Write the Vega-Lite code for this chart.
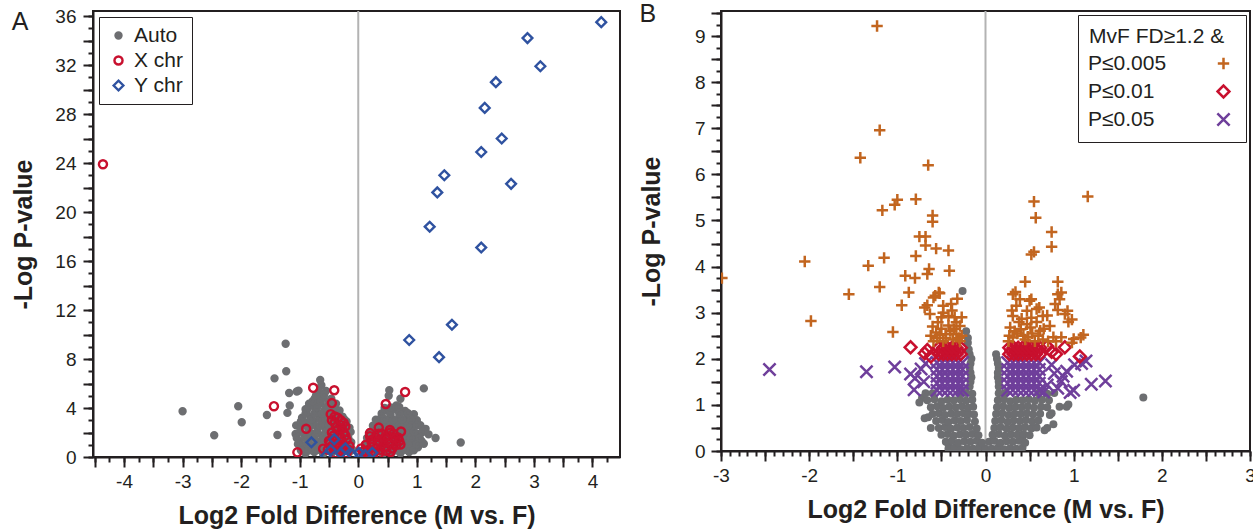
{
"$schema": "https://vega.github.io/schema/vega-lite/v6.json",
"background": "white",
"padding": {"left": 10, "top": 1, "right": 0, "bottom": 0},
"spacing": 17,
"resolve": {"scale": {"stroke": "independent", "fill": "independent", "shape": "independent", "size": "independent", "color": "independent"}, "legend": {"stroke": "independent", "fill": "independent", "shape": "independent", "size": "independent"}},
"config": {
  "view": {"stroke": "#231f20", "strokeWidth": 2},
  "font": "Liberation Sans",
  "axis": {"grid": false, "domainColor": "#231f20", "domainWidth": 2, "tickColor": "#231f20", "tickWidth": 2, "labelFont": "Liberation Sans", "labelFontSize": 19, "labelColor": "#231f20", "labelOverlap": false, "labelBound": false, "labelFlush": false, "titleFont": "Liberation Sans", "titleFontSize": 25, "titleFontWeight": "bold", "titleColor": "#231f20"}
},
"datasets": {
"aa": [
{"x":-3.0,"y":3.73,"g":"Auto"},{"x":-2.46,"y":1.78,"g":"Auto"},{"x":-2.05,"y":4.14,"g":"Auto"},{"x":-1.99,"y":2.84,"g":"Auto"},{"x":-1.56,"y":3.43,"g":"Auto"},{"x":-1.43,"y":6.42,"g":"Auto"},{"x":-1.38,"y":1.8,"g":"Auto"},{"x":-1.24,"y":9.25,"g":"Auto"},{"x":-1.23,"y":7.0,"g":"Auto"},{"x":-1.18,"y":5.22,"g":"Auto"},{"x":-1.02,"y":5.42,"g":"Auto"},{"x":-1.05,"y":5.35,"g":"Auto"},{"x":-1.17,"y":4.2,"g":"Auto"},{"x":-1.21,"y":3.6,"g":"Auto"},{"x":-1.06,"y":2.58,"g":"Auto"},{"x":-1.07,"y":1.88,"g":"Auto"},{"x":-0.65,"y":6.28,"g":"Auto"},{"x":-0.63,"y":5.85,"g":"Auto"},{"x":-0.66,"y":5.04,"g":"Auto"},{"x":-0.76,"y":4.6,"g":"Auto"},{"x":-0.84,"y":4.35,"g":"Auto"},{"x":-0.9,"y":3.9,"g":"Auto"},{"x":-0.96,"y":3.2,"g":"Auto"},{"x":-0.98,"y":2.9,"g":"Auto"},
{"x":1.12,"y":5.6,"g":"Auto"},{"x":0.53,"y":5.45,"g":"Auto"},{"x":0.52,"y":5.0,"g":"Auto"},{"x":0.72,"y":4.76,"g":"Auto"},{"x":0.81,"y":3.65,"g":"Auto"},{"x":1.06,"y":2.59,"g":"Auto"},{"x":1.09,"y":2.04,"g":"Auto"},{"x":1.32,"y":1.55,"g":"Auto"},{"x":1.75,"y":1.18,"g":"Auto"},{"x":1.0,"y":3.0,"g":"Auto"},{"x":0.95,"y":3.5,"g":"Auto"},{"x":1.15,"y":2.3,"g":"Auto"},{"x":1.2,"y":1.85,"g":"Auto"},{"x":0.65,"y":4.2,"g":"Auto"},{"x":0.45,"y":4.0,"g":"Auto"},
{"x":-0.9,"y":0.3,"g":"Auto"},{"x":-0.75,"y":0.4,"g":"Auto"},{"x":-0.6,"y":0.25,"g":"Auto"},{"x":-0.45,"y":0.35,"g":"Auto"},{"x":-0.3,"y":0.3,"g":"Auto"},{"x":-0.15,"y":0.4,"g":"Auto"},
{"x":-0.95,"y":0.8,"g":"Auto"},{"x":-0.8,"y":0.9,"g":"Auto"},{"x":-0.65,"y":0.75,"g":"Auto"},{"x":-0.5,"y":0.85,"g":"Auto"},{"x":-0.35,"y":0.8,"g":"Auto"},{"x":-0.2,"y":0.9,"g":"Auto"},
{"x":-1.0,"y":1.3,"g":"Auto"},{"x":-0.85,"y":1.4,"g":"Auto"},{"x":-0.7,"y":1.25,"g":"Auto"},{"x":-0.55,"y":1.35,"g":"Auto"},{"x":-0.4,"y":1.3,"g":"Auto"},{"x":-0.25,"y":1.4,"g":"Auto"},{"x":-0.12,"y":1.2,"g":"Auto"},
{"x":-0.92,"y":1.8,"g":"Auto"},{"x":-0.78,"y":1.9,"g":"Auto"},{"x":-0.62,"y":1.75,"g":"Auto"},{"x":-0.48,"y":1.85,"g":"Auto"},{"x":-0.33,"y":1.8,"g":"Auto"},{"x":-0.2,"y":1.9,"g":"Auto"},
{"x":-0.85,"y":2.3,"g":"Auto"},{"x":-0.7,"y":2.4,"g":"Auto"},{"x":-0.56,"y":2.25,"g":"Auto"},{"x":-0.42,"y":2.35,"g":"Auto"},{"x":-0.28,"y":2.3,"g":"Auto"},{"x":-0.15,"y":2.4,"g":"Auto"},
{"x":-0.9,"y":2.8,"g":"Auto"},{"x":-0.76,"y":2.9,"g":"Auto"},{"x":-0.6,"y":2.75,"g":"Auto"},{"x":-0.47,"y":2.85,"g":"Auto"},{"x":-0.33,"y":2.8,"g":"Auto"},{"x":-0.2,"y":2.9,"g":"Auto"},
{"x":-0.82,"y":3.3,"g":"Auto"},{"x":-0.68,"y":3.4,"g":"Auto"},{"x":-0.55,"y":3.25,"g":"Auto"},{"x":-0.4,"y":3.35,"g":"Auto"},{"x":-0.27,"y":3.3,"g":"Auto"},
{"x":-0.88,"y":3.8,"g":"Auto"},{"x":-0.72,"y":3.9,"g":"Auto"},{"x":-0.58,"y":3.75,"g":"Auto"},{"x":-0.45,"y":3.85,"g":"Auto"},{"x":-0.32,"y":3.8,"g":"Auto"},
{"x":-0.8,"y":4.3,"g":"Auto"},{"x":-0.64,"y":4.4,"g":"Auto"},{"x":-0.5,"y":4.25,"g":"Auto"},{"x":-0.38,"y":4.35,"g":"Auto"},
{"x":-0.74,"y":4.8,"g":"Auto"},{"x":-0.6,"y":4.9,"g":"Auto"},{"x":-0.46,"y":4.75,"g":"Auto"},{"x":-0.67,"y":5.3,"g":"Auto"},{"x":-0.55,"y":5.4,"g":"Auto"},
{"x":-0.98,"y":0.55,"g":"Auto"},{"x":-0.83,"y":0.55,"g":"Auto"},{"x":-0.68,"y":0.58,"g":"Auto"},{"x":-0.53,"y":0.55,"g":"Auto"},{"x":-0.38,"y":0.58,"g":"Auto"},{"x":-0.23,"y":0.55,"g":"Auto"},{"x":-0.1,"y":0.6,"g":"Auto"},
{"x":-1.03,"y":1.05,"g":"Auto"},{"x":-0.88,"y":1.08,"g":"Auto"},{"x":-0.73,"y":1.05,"g":"Auto"},{"x":-0.58,"y":1.08,"g":"Auto"},{"x":-0.43,"y":1.05,"g":"Auto"},{"x":-0.28,"y":1.08,"g":"Auto"},{"x":-0.15,"y":1.05,"g":"Auto"},
{"x":-1.05,"y":1.55,"g":"Auto"},{"x":-0.9,"y":1.58,"g":"Auto"},{"x":-0.75,"y":1.55,"g":"Auto"},{"x":-0.6,"y":1.58,"g":"Auto"},{"x":-0.45,"y":1.55,"g":"Auto"},{"x":-0.3,"y":1.58,"g":"Auto"},{"x":-0.17,"y":1.55,"g":"Auto"},
{"x":-1.0,"y":2.05,"g":"Auto"},{"x":-0.85,"y":2.08,"g":"Auto"},{"x":-0.7,"y":2.05,"g":"Auto"},{"x":-0.55,"y":2.08,"g":"Auto"},{"x":-0.4,"y":2.05,"g":"Auto"},{"x":-0.25,"y":2.08,"g":"Auto"},{"x":-0.13,"y":2.05,"g":"Auto"},
{"x":-0.95,"y":2.55,"g":"Auto"},{"x":-0.8,"y":2.58,"g":"Auto"},{"x":-0.65,"y":2.55,"g":"Auto"},{"x":-0.5,"y":2.58,"g":"Auto"},{"x":-0.36,"y":2.55,"g":"Auto"},{"x":-0.22,"y":2.58,"g":"Auto"},
{"x":-0.95,"y":3.05,"g":"Auto"},{"x":-0.8,"y":3.08,"g":"Auto"},{"x":-0.65,"y":3.05,"g":"Auto"},{"x":-0.5,"y":3.08,"g":"Auto"},{"x":-0.36,"y":3.05,"g":"Auto"},{"x":-0.24,"y":3.08,"g":"Auto"},
{"x":-0.9,"y":3.55,"g":"Auto"},{"x":-0.75,"y":3.58,"g":"Auto"},{"x":-0.62,"y":3.55,"g":"Auto"},{"x":-0.48,"y":3.58,"g":"Auto"},{"x":-0.34,"y":3.55,"g":"Auto"},
{"x":-0.85,"y":4.05,"g":"Auto"},{"x":-0.7,"y":4.08,"g":"Auto"},{"x":-0.56,"y":4.05,"g":"Auto"},{"x":-0.42,"y":4.08,"g":"Auto"},
{"x":-0.78,"y":4.55,"g":"Auto"},{"x":-0.64,"y":4.58,"g":"Auto"},{"x":-0.5,"y":4.55,"g":"Auto"},{"x":-0.72,"y":5.05,"g":"Auto"},{"x":-0.58,"y":5.08,"g":"Auto"},
{"x":0.12,"y":0.3,"g":"Auto"},{"x":0.27,"y":0.4,"g":"Auto"},{"x":0.42,"y":0.25,"g":"Auto"},{"x":0.57,"y":0.35,"g":"Auto"},{"x":0.72,"y":0.3,"g":"Auto"},{"x":0.87,"y":0.4,"g":"Auto"},
{"x":0.15,"y":0.8,"g":"Auto"},{"x":0.3,"y":0.9,"g":"Auto"},{"x":0.45,"y":0.75,"g":"Auto"},{"x":0.6,"y":0.85,"g":"Auto"},{"x":0.75,"y":0.8,"g":"Auto"},{"x":0.9,"y":0.9,"g":"Auto"},{"x":1.02,"y":0.8,"g":"Auto"},
{"x":0.2,"y":1.3,"g":"Auto"},{"x":0.35,"y":1.4,"g":"Auto"},{"x":0.5,"y":1.25,"g":"Auto"},{"x":0.65,"y":1.35,"g":"Auto"},{"x":0.8,"y":1.3,"g":"Auto"},{"x":0.95,"y":1.4,"g":"Auto"},{"x":1.08,"y":1.3,"g":"Auto"},
{"x":0.25,"y":1.8,"g":"Auto"},{"x":0.4,"y":1.9,"g":"Auto"},{"x":0.55,"y":1.75,"g":"Auto"},{"x":0.7,"y":1.85,"g":"Auto"},{"x":0.85,"y":1.8,"g":"Auto"},{"x":1.0,"y":1.9,"g":"Auto"},
{"x":0.3,"y":2.3,"g":"Auto"},{"x":0.45,"y":2.4,"g":"Auto"},{"x":0.6,"y":2.25,"g":"Auto"},{"x":0.75,"y":2.35,"g":"Auto"},{"x":0.9,"y":2.3,"g":"Auto"},
{"x":0.35,"y":2.8,"g":"Auto"},{"x":0.5,"y":2.9,"g":"Auto"},{"x":0.65,"y":2.75,"g":"Auto"},{"x":0.8,"y":2.85,"g":"Auto"},{"x":0.95,"y":2.8,"g":"Auto"},
{"x":0.4,"y":3.3,"g":"Auto"},{"x":0.55,"y":3.4,"g":"Auto"},{"x":0.7,"y":3.25,"g":"Auto"},{"x":0.85,"y":3.35,"g":"Auto"},
{"x":0.5,"y":3.8,"g":"Auto"},{"x":0.65,"y":3.9,"g":"Auto"},{"x":0.8,"y":3.75,"g":"Auto"},
{"x":0.08,"y":0.55,"g":"Auto"},{"x":0.2,"y":0.58,"g":"Auto"},{"x":0.35,"y":0.55,"g":"Auto"},{"x":0.5,"y":0.58,"g":"Auto"},{"x":0.65,"y":0.55,"g":"Auto"},{"x":0.8,"y":0.58,"g":"Auto"},{"x":0.95,"y":0.55,"g":"Auto"},
{"x":0.12,"y":1.05,"g":"Auto"},{"x":0.25,"y":1.08,"g":"Auto"},{"x":0.4,"y":1.05,"g":"Auto"},{"x":0.55,"y":1.08,"g":"Auto"},{"x":0.7,"y":1.05,"g":"Auto"},{"x":0.85,"y":1.08,"g":"Auto"},{"x":1.0,"y":1.05,"g":"Auto"},{"x":1.12,"y":1.08,"g":"Auto"},
{"x":0.15,"y":1.55,"g":"Auto"},{"x":0.3,"y":1.58,"g":"Auto"},{"x":0.45,"y":1.55,"g":"Auto"},{"x":0.6,"y":1.58,"g":"Auto"},{"x":0.75,"y":1.55,"g":"Auto"},{"x":0.9,"y":1.58,"g":"Auto"},{"x":1.05,"y":1.55,"g":"Auto"},
{"x":0.2,"y":2.05,"g":"Auto"},{"x":0.35,"y":2.08,"g":"Auto"},{"x":0.5,"y":2.05,"g":"Auto"},{"x":0.65,"y":2.08,"g":"Auto"},{"x":0.8,"y":2.05,"g":"Auto"},{"x":0.95,"y":2.08,"g":"Auto"},{"x":1.1,"y":2.05,"g":"Auto"},
{"x":0.25,"y":2.55,"g":"Auto"},{"x":0.4,"y":2.58,"g":"Auto"},{"x":0.55,"y":2.55,"g":"Auto"},{"x":0.7,"y":2.58,"g":"Auto"},{"x":0.85,"y":2.55,"g":"Auto"},{"x":1.0,"y":2.58,"g":"Auto"},
{"x":0.3,"y":3.05,"g":"Auto"},{"x":0.45,"y":3.08,"g":"Auto"},{"x":0.6,"y":3.05,"g":"Auto"},{"x":0.75,"y":3.08,"g":"Auto"},{"x":0.9,"y":3.05,"g":"Auto"},
{"x":0.4,"y":3.55,"g":"Auto"},{"x":0.55,"y":3.58,"g":"Auto"},{"x":0.7,"y":3.55,"g":"Auto"},{"x":0.85,"y":3.58,"g":"Auto"},{"x":0.55,"y":4.05,"g":"Auto"},{"x":0.7,"y":4.08,"g":"Auto"},
{"x":-4.36,"y":23.9,"g":"X chr"},{"x":-0.77,"y":5.65,"g":"X chr"},{"x":-0.41,"y":5.45,"g":"X chr"},{"x":-0.45,"y":4.4,"g":"X chr"},{"x":-1.44,"y":4.15,"g":"X chr"},{"x":-0.47,"y":3.5,"g":"X chr"},{"x":-0.89,"y":2.3,"g":"X chr"},{"x":-1.04,"y":0.38,"g":"X chr"},{"x":-0.6,"y":0.68,"g":"X chr"},{"x":0.47,"y":4.32,"g":"X chr"},{"x":0.8,"y":5.3,"g":"X chr"},{"x":0.35,"y":2.4,"g":"X chr"},{"x":0.54,"y":2.2,"g":"X chr"},{"x":0.73,"y":2.08,"g":"X chr"},{"x":0.72,"y":1.02,"g":"X chr"},
{"x":-0.2,"y":0.3,"g":"X chr"},{"x":-0.3,"y":0.5,"g":"X chr"},{"x":-0.4,"y":0.3,"g":"X chr"},{"x":-0.25,"y":0.9,"g":"X chr"},{"x":-0.35,"y":1.1,"g":"X chr"},{"x":-0.45,"y":0.9,"g":"X chr"},{"x":-0.2,"y":1.4,"g":"X chr"},{"x":-0.3,"y":1.6,"g":"X chr"},{"x":-0.42,"y":1.5,"g":"X chr"},{"x":-0.5,"y":1.3,"g":"X chr"},{"x":-0.25,"y":2.0,"g":"X chr"},{"x":-0.35,"y":2.2,"g":"X chr"},{"x":-0.45,"y":2.0,"g":"X chr"},{"x":-0.3,"y":2.6,"g":"X chr"},{"x":-0.4,"y":2.8,"g":"X chr"},{"x":-0.22,"y":2.5,"g":"X chr"},{"x":-0.45,"y":3.0,"g":"X chr"},{"x":-0.35,"y":3.2,"g":"X chr"},{"x":-0.15,"y":0.9,"g":"X chr"},{"x":-0.52,"y":0.6,"g":"X chr"},
{"x":-0.25,"y":0.6,"g":"X chr"},{"x":-0.35,"y":0.75,"g":"X chr"},{"x":-0.42,"y":0.65,"g":"X chr"},{"x":-0.28,"y":1.25,"g":"X chr"},{"x":-0.38,"y":1.35,"g":"X chr"},{"x":-0.22,"y":1.75,"g":"X chr"},{"x":-0.33,"y":1.85,"g":"X chr"},{"x":-0.42,"y":1.75,"g":"X chr"},{"x":-0.28,"y":2.3,"g":"X chr"},{"x":-0.38,"y":2.45,"g":"X chr"},{"x":-0.25,"y":2.8,"g":"X chr"},{"x":-0.4,"y":3.3,"g":"X chr"},{"x":-0.3,"y":3.0,"g":"X chr"},{"x":-0.17,"y":0.6,"g":"X chr"},{"x":-0.48,"y":1.15,"g":"X chr"},
{"x":0.08,"y":0.4,"g":"X chr"},{"x":0.18,"y":0.6,"g":"X chr"},{"x":0.28,"y":0.4,"g":"X chr"},{"x":0.38,"y":0.6,"g":"X chr"},{"x":0.48,"y":0.5,"g":"X chr"},{"x":0.58,"y":0.7,"g":"X chr"},{"x":0.13,"y":1.0,"g":"X chr"},{"x":0.23,"y":1.2,"g":"X chr"},{"x":0.33,"y":1.0,"g":"X chr"},{"x":0.43,"y":1.3,"g":"X chr"},{"x":0.53,"y":1.1,"g":"X chr"},{"x":0.63,"y":1.4,"g":"X chr"},{"x":0.2,"y":1.7,"g":"X chr"},{"x":0.3,"y":1.6,"g":"X chr"},{"x":0.4,"y":1.9,"g":"X chr"},{"x":0.5,"y":1.7,"g":"X chr"},{"x":0.6,"y":1.9,"g":"X chr"},{"x":0.68,"y":1.6,"g":"X chr"},{"x":0.1,"y":0.15,"g":"X chr"},{"x":0.25,"y":0.15,"g":"X chr"},
{"x":0.15,"y":0.3,"g":"X chr"},{"x":0.35,"y":0.25,"g":"X chr"},{"x":0.45,"y":0.8,"g":"X chr"},{"x":0.55,"y":0.4,"g":"X chr"},{"x":0.65,"y":1.0,"g":"X chr"},{"x":0.25,"y":0.85,"g":"X chr"},{"x":0.35,"y":1.35,"g":"X chr"},{"x":0.5,"y":1.45,"g":"X chr"},{"x":0.6,"y":1.6,"g":"X chr"},{"x":0.25,"y":1.45,"g":"X chr"},{"x":0.45,"y":1.6,"g":"X chr"},{"x":0.7,"y":1.3,"g":"X chr"},{"x":0.35,"y":1.9,"g":"X chr"},{"x":0.55,"y":2.0,"g":"X chr"},{"x":0.2,"y":1.95,"g":"X chr"},{"x":0.05,"y":0.7,"g":"X chr"},
{"x":4.15,"y":35.5,"g":"Y chr"},{"x":2.89,"y":34.2,"g":"Y chr"},{"x":3.11,"y":31.9,"g":"Y chr"},{"x":2.35,"y":30.6,"g":"Y chr"},{"x":2.16,"y":28.5,"g":"Y chr"},{"x":2.45,"y":26.0,"g":"Y chr"},{"x":2.1,"y":24.9,"g":"Y chr"},{"x":1.47,"y":23.0,"g":"Y chr"},{"x":1.35,"y":21.6,"g":"Y chr"},{"x":2.61,"y":22.3,"g":"Y chr"},{"x":1.22,"y":18.8,"g":"Y chr"},{"x":2.1,"y":17.1,"g":"Y chr"},{"x":1.6,"y":10.8,"g":"Y chr"},{"x":0.87,"y":9.55,"g":"Y chr"},{"x":1.38,"y":8.15,"g":"Y chr"},{"x":-0.8,"y":1.2,"g":"Y chr"},{"x":-0.41,"y":1.45,"g":"Y chr"},{"x":-0.47,"y":0.55,"g":"Y chr"},{"x":-0.22,"y":0.7,"g":"Y chr"},{"x":-0.3,"y":0.3,"g":"Y chr"},{"x":-0.55,"y":0.1,"g":"Y chr"},{"x":0.01,"y":0.35,"g":"Y chr"},{"x":0.24,"y":0.35,"g":"Y chr"},{"x":0.12,"y":0.15,"g":"Y chr"},{"x":-0.1,"y":0.2,"g":"Y chr"}
],
"bg": [
{"x":-0.26,"y":3.47},{"x":1.79,"y":1.16},{"x":-0.69,"y":0.71},{"x":-0.62,"y":0.5},{"x":-0.42,"y":0.14},{"x":-0.65,"y":0.73},{"x":0.42,"y":0.3},{"x":0.7,"y":0.5},{"x":0.75,"y":0.82},{"x":0.84,"y":0.96},{"x":0.94,"y":1.01},{"x":0.73,"y":0.78},{"x":0.77,"y":0.58},{"x":0.67,"y":0.45},{"x":0.92,"y":0.96},{"x":-0.72,"y":1.15},{"x":-0.75,"y":1.05},
{"x":-0.42,"y":0.05},{"x":-0.35,"y":0.07},{"x":-0.28,"y":0.04},{"x":-0.21,"y":0.06},{"x":-0.14,"y":0.05},{"x":-0.07,"y":0.08},{"x":0.0,"y":0.05},
{"x":-0.45,"y":0.2},{"x":-0.38,"y":0.22},{"x":-0.31,"y":0.18},{"x":-0.24,"y":0.21},{"x":-0.17,"y":0.2},{"x":-0.1,"y":0.22},{"x":-0.04,"y":0.18},
{"x":-0.5,"y":0.35},{"x":-0.43,"y":0.37},{"x":-0.36,"y":0.33},{"x":-0.29,"y":0.36},{"x":-0.22,"y":0.35},{"x":-0.15,"y":0.37},{"x":-0.08,"y":0.34},
{"x":-0.53,"y":0.5},{"x":-0.46,"y":0.52},{"x":-0.39,"y":0.48},{"x":-0.32,"y":0.51},{"x":-0.25,"y":0.5},{"x":-0.18,"y":0.52},{"x":-0.1,"y":0.49},
{"x":-0.56,"y":0.65},{"x":-0.49,"y":0.67},{"x":-0.42,"y":0.63},{"x":-0.35,"y":0.66},{"x":-0.28,"y":0.65},{"x":-0.21,"y":0.67},{"x":-0.12,"y":0.64},
{"x":-0.6,"y":0.8},{"x":-0.53,"y":0.82},{"x":-0.46,"y":0.78},{"x":-0.39,"y":0.81},{"x":-0.32,"y":0.8},{"x":-0.25,"y":0.82},{"x":-0.19,"y":0.8},{"x":-0.13,"y":0.79},
{"x":-0.62,"y":0.95},{"x":-0.55,"y":0.97},{"x":-0.48,"y":0.93},{"x":-0.41,"y":0.96},{"x":-0.34,"y":0.95},{"x":-0.27,"y":0.97},{"x":-0.2,"y":0.94},{"x":-0.14,"y":0.96},
{"x":-0.66,"y":1.1},{"x":-0.58,"y":1.12},{"x":-0.5,"y":1.08},{"x":-0.43,"y":1.11},{"x":-0.36,"y":1.1},{"x":-0.29,"y":1.12},{"x":-0.22,"y":1.09},{"x":-0.15,"y":1.11},
{"x":-0.68,"y":1.25},{"x":-0.6,"y":1.25},{"x":-0.3,"y":1.25},{"x":-0.22,"y":1.26},{"x":-0.15,"y":1.24},
{"x":-0.18,"y":1.4},{"x":-0.17,"y":1.5},{"x":-0.16,"y":1.6},{"x":-0.17,"y":1.7},{"x":-0.18,"y":1.8},{"x":-0.17,"y":1.9},{"x":-0.16,"y":2.0},{"x":-0.18,"y":2.1},{"x":-0.19,"y":2.2},{"x":-0.2,"y":2.35},{"x":-0.2,"y":2.45},{"x":-0.22,"y":2.6},
{"x":0.07,"y":0.05},{"x":0.14,"y":0.07},{"x":0.21,"y":0.04},{"x":0.28,"y":0.06},{"x":0.35,"y":0.05},{"x":0.42,"y":0.07},
{"x":0.04,"y":0.2},{"x":0.1,"y":0.22},{"x":0.17,"y":0.18},{"x":0.24,"y":0.21},{"x":0.31,"y":0.2},{"x":0.38,"y":0.22},{"x":0.45,"y":0.18},
{"x":0.08,"y":0.35},{"x":0.15,"y":0.37},{"x":0.22,"y":0.33},{"x":0.29,"y":0.36},{"x":0.36,"y":0.35},{"x":0.43,"y":0.37},{"x":0.5,"y":0.34},
{"x":0.1,"y":0.5},{"x":0.17,"y":0.52},{"x":0.24,"y":0.48},{"x":0.31,"y":0.51},{"x":0.38,"y":0.5},{"x":0.45,"y":0.52},{"x":0.52,"y":0.49},{"x":0.58,"y":0.51},
{"x":0.11,"y":0.65},{"x":0.18,"y":0.67},{"x":0.25,"y":0.63},{"x":0.32,"y":0.66},{"x":0.39,"y":0.65},{"x":0.46,"y":0.67},{"x":0.53,"y":0.64},{"x":0.6,"y":0.66},
{"x":0.12,"y":0.8},{"x":0.19,"y":0.82},{"x":0.26,"y":0.78},{"x":0.33,"y":0.81},{"x":0.4,"y":0.8},{"x":0.47,"y":0.82},{"x":0.54,"y":0.79},{"x":0.62,"y":0.81},
{"x":0.13,"y":0.95},{"x":0.2,"y":0.97},{"x":0.27,"y":0.93},{"x":0.34,"y":0.96},{"x":0.41,"y":0.95},{"x":0.48,"y":0.97},{"x":0.55,"y":0.94},{"x":0.63,"y":0.96},{"x":0.7,"y":0.95},
{"x":0.14,"y":1.1},{"x":0.21,"y":1.12},{"x":0.28,"y":1.08},{"x":0.35,"y":1.11},{"x":0.42,"y":1.1},{"x":0.49,"y":1.12},{"x":0.56,"y":1.09},{"x":0.64,"y":1.11},{"x":0.72,"y":1.1},
{"x":0.15,"y":1.25},{"x":0.22,"y":1.26},{"x":0.6,"y":1.25},{"x":0.7,"y":1.24},{"x":0.78,"y":1.26},
{"x":0.15,"y":1.4},{"x":0.15,"y":1.5},{"x":0.14,"y":1.6},{"x":0.14,"y":1.7},{"x":0.15,"y":1.8},{"x":0.14,"y":1.9},{"x":0.13,"y":2.0},{"x":0.12,"y":2.1}
],
"bp": [
{"x":-2.45,"y":1.77,"g":"P≤0.05"},{"x":-1.35,"y":1.72,"g":"P≤0.05"},{"x":-1.03,"y":1.82,"g":"P≤0.05"},{"x":-0.85,"y":1.67,"g":"P≤0.05"},{"x":-0.8,"y":1.58,"g":"P≤0.05"},{"x":-0.73,"y":1.78,"g":"P≤0.05"},{"x":-0.81,"y":1.33,"g":"P≤0.05"},{"x":-0.7,"y":1.5,"g":"P≤0.05"},{"x":-0.68,"y":1.9,"g":"P≤0.05"},{"x":1.2,"y":1.45,"g":"P≤0.05"},{"x":1.36,"y":1.52,"g":"P≤0.05"},{"x":0.92,"y":1.73,"g":"P≤0.05"},{"x":1.01,"y":1.87,"g":"P≤0.05"},{"x":1.09,"y":1.9,"g":"P≤0.05"},{"x":1.14,"y":1.95,"g":"P≤0.05"},{"x":0.86,"y":1.51,"g":"P≤0.05"},{"x":0.82,"y":1.36,"g":"P≤0.05"},{"x":0.96,"y":1.27,"g":"P≤0.05"},{"x":0.75,"y":1.87,"g":"P≤0.05"},{"x":0.7,"y":1.43,"g":"P≤0.05"},{"x":0.66,"y":1.28,"g":"P≤0.05"},{"x":1.0,"y":1.32,"g":"P≤0.05"},{"x":0.88,"y":1.62,"g":"P≤0.05"},{"x":0.78,"y":1.68,"g":"P≤0.05"},
{"x":-0.55,"y":1.32,"g":"P≤0.05"},{"x":-0.49,"y":1.32,"g":"P≤0.05"},{"x":-0.43,"y":1.32,"g":"P≤0.05"},{"x":-0.37,"y":1.32,"g":"P≤0.05"},{"x":-0.31,"y":1.32,"g":"P≤0.05"},{"x":-0.26,"y":1.32,"g":"P≤0.05"},
{"x":-0.55,"y":1.47,"g":"P≤0.05"},{"x":-0.49,"y":1.47,"g":"P≤0.05"},{"x":-0.43,"y":1.47,"g":"P≤0.05"},{"x":-0.37,"y":1.47,"g":"P≤0.05"},{"x":-0.31,"y":1.47,"g":"P≤0.05"},{"x":-0.26,"y":1.47,"g":"P≤0.05"},
{"x":-0.55,"y":1.62,"g":"P≤0.05"},{"x":-0.49,"y":1.62,"g":"P≤0.05"},{"x":-0.43,"y":1.62,"g":"P≤0.05"},{"x":-0.37,"y":1.62,"g":"P≤0.05"},{"x":-0.31,"y":1.62,"g":"P≤0.05"},{"x":-0.26,"y":1.62,"g":"P≤0.05"},
{"x":-0.55,"y":1.77,"g":"P≤0.05"},{"x":-0.49,"y":1.77,"g":"P≤0.05"},{"x":-0.43,"y":1.77,"g":"P≤0.05"},{"x":-0.37,"y":1.77,"g":"P≤0.05"},{"x":-0.31,"y":1.77,"g":"P≤0.05"},{"x":-0.26,"y":1.77,"g":"P≤0.05"},
{"x":-0.55,"y":1.92,"g":"P≤0.05"},{"x":-0.49,"y":1.92,"g":"P≤0.05"},{"x":-0.43,"y":1.92,"g":"P≤0.05"},{"x":-0.37,"y":1.92,"g":"P≤0.05"},{"x":-0.31,"y":1.92,"g":"P≤0.05"},{"x":-0.26,"y":1.92,"g":"P≤0.05"},
{"x":0.25,"y":1.32,"g":"P≤0.05"},{"x":0.31,"y":1.32,"g":"P≤0.05"},{"x":0.37,"y":1.32,"g":"P≤0.05"},{"x":0.43,"y":1.32,"g":"P≤0.05"},{"x":0.49,"y":1.32,"g":"P≤0.05"},{"x":0.55,"y":1.32,"g":"P≤0.05"},{"x":0.61,"y":1.32,"g":"P≤0.05"},
{"x":0.25,"y":1.47,"g":"P≤0.05"},{"x":0.31,"y":1.47,"g":"P≤0.05"},{"x":0.37,"y":1.47,"g":"P≤0.05"},{"x":0.43,"y":1.47,"g":"P≤0.05"},{"x":0.49,"y":1.47,"g":"P≤0.05"},{"x":0.55,"y":1.47,"g":"P≤0.05"},{"x":0.61,"y":1.47,"g":"P≤0.05"},
{"x":0.25,"y":1.62,"g":"P≤0.05"},{"x":0.31,"y":1.62,"g":"P≤0.05"},{"x":0.37,"y":1.62,"g":"P≤0.05"},{"x":0.43,"y":1.62,"g":"P≤0.05"},{"x":0.49,"y":1.62,"g":"P≤0.05"},{"x":0.55,"y":1.62,"g":"P≤0.05"},{"x":0.61,"y":1.62,"g":"P≤0.05"},
{"x":0.25,"y":1.77,"g":"P≤0.05"},{"x":0.31,"y":1.77,"g":"P≤0.05"},{"x":0.37,"y":1.77,"g":"P≤0.05"},{"x":0.43,"y":1.77,"g":"P≤0.05"},{"x":0.49,"y":1.77,"g":"P≤0.05"},{"x":0.55,"y":1.77,"g":"P≤0.05"},{"x":0.61,"y":1.77,"g":"P≤0.05"},
{"x":0.25,"y":1.92,"g":"P≤0.05"},{"x":0.31,"y":1.92,"g":"P≤0.05"},{"x":0.37,"y":1.92,"g":"P≤0.05"},{"x":0.43,"y":1.92,"g":"P≤0.05"},{"x":0.49,"y":1.92,"g":"P≤0.05"},{"x":0.55,"y":1.92,"g":"P≤0.05"},{"x":0.61,"y":1.92,"g":"P≤0.05"},
{"x":-0.85,"y":2.25,"g":"P≤0.01"},{"x":-0.66,"y":2.19,"g":"P≤0.01"},{"x":-0.69,"y":2.12,"g":"P≤0.01"},{"x":-0.62,"y":2.05,"g":"P≤0.01"},{"x":0.9,"y":2.25,"g":"P≤0.01"},{"x":1.07,"y":2.05,"g":"P≤0.01"},{"x":0.7,"y":2.27,"g":"P≤0.01"},{"x":0.75,"y":2.15,"g":"P≤0.01"},{"x":0.8,"y":2.1,"g":"P≤0.01"},
{"x":-0.53,"y":2.1,"g":"P≤0.01"},{"x":-0.48,"y":2.1,"g":"P≤0.01"},{"x":-0.43,"y":2.1,"g":"P≤0.01"},{"x":-0.38,"y":2.1,"g":"P≤0.01"},{"x":-0.33,"y":2.1,"g":"P≤0.01"},{"x":-0.28,"y":2.1,"g":"P≤0.01"},
{"x":-0.505,"y":2.17,"g":"P≤0.01"},{"x":-0.455,"y":2.17,"g":"P≤0.01"},{"x":-0.405,"y":2.17,"g":"P≤0.01"},{"x":-0.355,"y":2.17,"g":"P≤0.01"},{"x":-0.305,"y":2.17,"g":"P≤0.01"},
{"x":-0.53,"y":2.24,"g":"P≤0.01"},{"x":-0.48,"y":2.24,"g":"P≤0.01"},{"x":-0.43,"y":2.24,"g":"P≤0.01"},{"x":-0.38,"y":2.24,"g":"P≤0.01"},{"x":-0.33,"y":2.24,"g":"P≤0.01"},{"x":-0.28,"y":2.24,"g":"P≤0.01"},
{"x":0.27,"y":2.1,"g":"P≤0.01"},{"x":0.32,"y":2.1,"g":"P≤0.01"},{"x":0.37,"y":2.1,"g":"P≤0.01"},{"x":0.42,"y":2.1,"g":"P≤0.01"},{"x":0.47,"y":2.1,"g":"P≤0.01"},{"x":0.52,"y":2.1,"g":"P≤0.01"},{"x":0.57,"y":2.1,"g":"P≤0.01"},{"x":0.62,"y":2.1,"g":"P≤0.01"},
{"x":0.295,"y":2.17,"g":"P≤0.01"},{"x":0.345,"y":2.17,"g":"P≤0.01"},{"x":0.395,"y":2.17,"g":"P≤0.01"},{"x":0.445,"y":2.17,"g":"P≤0.01"},{"x":0.495,"y":2.17,"g":"P≤0.01"},{"x":0.545,"y":2.17,"g":"P≤0.01"},{"x":0.595,"y":2.17,"g":"P≤0.01"},
{"x":0.27,"y":2.24,"g":"P≤0.01"},{"x":0.32,"y":2.24,"g":"P≤0.01"},{"x":0.37,"y":2.24,"g":"P≤0.01"},{"x":0.42,"y":2.24,"g":"P≤0.01"},{"x":0.47,"y":2.24,"g":"P≤0.01"},{"x":0.52,"y":2.24,"g":"P≤0.01"},{"x":0.57,"y":2.24,"g":"P≤0.01"},{"x":0.62,"y":2.24,"g":"P≤0.01"},
{"x":-1.23,"y":9.22,"g":"P≤0.005"},{"x":-1.2,"y":6.96,"g":"P≤0.005"},{"x":-1.42,"y":6.36,"g":"P≤0.005"},{"x":-0.65,"y":6.2,"g":"P≤0.005"},{"x":-1.0,"y":5.45,"g":"P≤0.005"},{"x":-1.03,"y":5.34,"g":"P≤0.005"},{"x":-0.79,"y":5.46,"g":"P≤0.005"},{"x":-1.17,"y":5.22,"g":"P≤0.005"},{"x":-0.6,"y":5.11,"g":"P≤0.005"},{"x":-0.6,"y":4.97,"g":"P≤0.005"},{"x":-0.75,"y":4.65,"g":"P≤0.005"},{"x":-0.68,"y":4.65,"g":"P≤0.005"},{"x":-0.68,"y":4.46,"g":"P≤0.005"},{"x":-0.56,"y":4.39,"g":"P≤0.005"},{"x":-0.42,"y":4.35,"g":"P≤0.005"},{"x":-0.79,"y":4.23,"g":"P≤0.005"},{"x":-1.15,"y":4.19,"g":"P≤0.005"},{"x":-2.05,"y":4.11,"g":"P≤0.005"},{"x":-1.33,"y":4.02,"g":"P≤0.005"},{"x":-0.64,"y":3.95,"g":"P≤0.005"},{"x":-0.66,"y":3.84,"g":"P≤0.005"},{"x":-0.41,"y":3.91,"g":"P≤0.005"},{"x":-0.91,"y":3.8,"g":"P≤0.005"},{"x":-0.8,"y":3.75,"g":"P≤0.005"},{"x":-2.99,"y":3.75,"g":"P≤0.005"},{"x":-1.2,"y":3.56,"g":"P≤0.005"},{"x":-1.55,"y":3.4,"g":"P≤0.005"},{"x":-0.87,"y":3.44,"g":"P≤0.005"},{"x":-0.53,"y":3.44,"g":"P≤0.005"},{"x":-0.57,"y":3.37,"g":"P≤0.005"},{"x":-0.95,"y":3.16,"g":"P≤0.005"},{"x":-0.66,"y":3.16,"g":"P≤0.005"},{"x":-1.98,"y":2.82,"g":"P≤0.005"},{"x":-1.05,"y":2.58,"g":"P≤0.005"},
{"x":-0.59,"y":3.33,"g":"P≤0.005"},{"x":-0.52,"y":3.42,"g":"P≤0.005"},{"x":-0.69,"y":3.11,"g":"P≤0.005"},{"x":-0.48,"y":3.15,"g":"P≤0.005"},{"x":-0.39,"y":3.19,"g":"P≤0.005"},{"x":-0.63,"y":2.97,"g":"P≤0.005"},{"x":-0.48,"y":3.0,"g":"P≤0.005"},{"x":-0.42,"y":2.93,"g":"P≤0.005"},{"x":-0.33,"y":2.79,"g":"P≤0.005"},{"x":-0.54,"y":2.79,"g":"P≤0.005"},{"x":-0.42,"y":2.72,"g":"P≤0.005"},{"x":-0.29,"y":2.71,"g":"P≤0.005"},{"x":-0.56,"y":2.57,"g":"P≤0.005"},{"x":-0.45,"y":2.53,"g":"P≤0.005"},{"x":-0.33,"y":2.53,"g":"P≤0.005"},{"x":-0.27,"y":2.5,"g":"P≤0.005"},{"x":-0.59,"y":2.38,"g":"P≤0.005"},{"x":-0.48,"y":2.38,"g":"P≤0.005"},{"x":-0.37,"y":2.42,"g":"P≤0.005"},{"x":-0.29,"y":2.38,"g":"P≤0.005"},{"x":-0.38,"y":3.05,"g":"P≤0.005"},{"x":-0.35,"y":2.9,"g":"P≤0.005"},{"x":-0.5,"y":2.65,"g":"P≤0.005"},{"x":-0.62,"y":2.5,"g":"P≤0.005"},
{"x":-0.55,"y":2.45,"g":"P≤0.005"},{"x":-0.4,"y":2.6,"g":"P≤0.005"},{"x":-0.3,"y":2.45,"g":"P≤0.005"},{"x":-0.5,"y":2.9,"g":"P≤0.005"},{"x":-0.6,"y":2.7,"g":"P≤0.005"},{"x":-0.27,"y":2.9,"g":"P≤0.005"},{"x":-0.45,"y":2.45,"g":"P≤0.005"},{"x":-0.36,"y":2.65,"g":"P≤0.005"},{"x":-0.52,"y":2.52,"g":"P≤0.005"},{"x":-0.32,"y":3.3,"g":"P≤0.005"},
{"x":1.16,"y":5.52,"g":"P≤0.005"},{"x":0.55,"y":5.41,"g":"P≤0.005"},{"x":0.57,"y":5.06,"g":"P≤0.005"},{"x":0.75,"y":4.75,"g":"P≤0.005"},{"x":0.75,"y":4.43,"g":"P≤0.005"},{"x":0.55,"y":4.32,"g":"P≤0.005"},{"x":0.52,"y":4.26,"g":"P≤0.005"},{"x":0.45,"y":3.67,"g":"P≤0.005"},{"x":0.82,"y":3.67,"g":"P≤0.005"},{"x":0.34,"y":3.45,"g":"P≤0.005"},{"x":0.86,"y":3.44,"g":"P≤0.005"},{"x":0.39,"y":3.29,"g":"P≤0.005"},{"x":0.84,"y":3.29,"g":"P≤0.005"},{"x":0.52,"y":3.29,"g":"P≤0.005"},{"x":0.61,"y":3.11,"g":"P≤0.005"},{"x":0.82,"y":3.06,"g":"P≤0.005"},{"x":0.93,"y":3.04,"g":"P≤0.005"},{"x":0.98,"y":2.85,"g":"P≤0.005"},{"x":0.7,"y":2.94,"g":"P≤0.005"},{"x":1.11,"y":2.52,"g":"P≤0.005"},{"x":1.0,"y":2.43,"g":"P≤0.005"},{"x":0.86,"y":2.47,"g":"P≤0.005"},{"x":0.77,"y":2.47,"g":"P≤0.005"},
{"x":0.31,"y":3.4,"g":"P≤0.005"},{"x":0.5,"y":3.26,"g":"P≤0.005"},{"x":0.35,"y":3.15,"g":"P≤0.005"},{"x":0.47,"y":3.04,"g":"P≤0.005"},{"x":0.58,"y":3.08,"g":"P≤0.005"},{"x":0.31,"y":2.93,"g":"P≤0.005"},{"x":0.41,"y":2.87,"g":"P≤0.005"},{"x":0.52,"y":2.89,"g":"P≤0.005"},{"x":0.65,"y":2.93,"g":"P≤0.005"},{"x":0.73,"y":2.71,"g":"P≤0.005"},{"x":0.28,"y":2.68,"g":"P≤0.005"},{"x":0.4,"y":2.64,"g":"P≤0.005"},{"x":0.51,"y":2.68,"g":"P≤0.005"},{"x":0.62,"y":2.61,"g":"P≤0.005"},{"x":0.31,"y":2.46,"g":"P≤0.005"},{"x":0.45,"y":2.42,"g":"P≤0.005"},{"x":0.56,"y":2.38,"g":"P≤0.005"},{"x":0.26,"y":2.38,"g":"P≤0.005"},{"x":0.71,"y":2.38,"g":"P≤0.005"},{"x":0.8,"y":2.38,"g":"P≤0.005"},{"x":0.98,"y":2.35,"g":"P≤0.005"},{"x":1.08,"y":2.46,"g":"P≤0.005"},{"x":0.9,"y":2.97,"g":"P≤0.005"},{"x":0.94,"y":2.8,"g":"P≤0.005"},{"x":0.79,"y":3.19,"g":"P≤0.005"},{"x":0.82,"y":3.4,"g":"P≤0.005"},{"x":0.36,"y":2.55,"g":"P≤0.005"},{"x":0.47,"y":2.75,"g":"P≤0.005"},{"x":0.6,"y":2.5,"g":"P≤0.005"},
{"x":0.33,"y":2.6,"g":"P≤0.005"},{"x":0.43,"y":2.5,"g":"P≤0.005"},{"x":0.53,"y":2.55,"g":"P≤0.005"},{"x":0.65,"y":2.42,"g":"P≤0.005"},{"x":0.38,"y":2.8,"g":"P≤0.005"},{"x":0.58,"y":2.8,"g":"P≤0.005"},{"x":0.3,"y":3.05,"g":"P≤0.005"},{"x":0.66,"y":2.65,"g":"P≤0.005"},{"x":0.48,"y":2.48,"g":"P≤0.005"},{"x":0.27,"y":2.5,"g":"P≤0.005"}
]
},
"hconcat": [
{
  "width": 527, "height": 446,
  "title": {"text": "A", "anchor": "start", "frame": "bounds", "fontSize": 25, "fontWeight": "normal", "color": "#231f20", "baseline": "top", "offset": -6, "dy": 22},
  "resolve": {"axis": {"x": "independent", "y": "independent"}},
  "layer": [
    {
      "data": {"values": [{"x": 0, "y": 0, "y2": 36.41}]},
      "mark": {"type": "rule", "color": "#b3b3b3", "strokeWidth": 2},
      "encoding": {
        "x": {"field": "x", "type": "quantitative", "scale": {"domain": [-4.53, 4.47], "nice": false, "zero": false},
          "axis": {"orient": "bottom", "title": null, "labels": false, "domain": false, "tickSize": 5,
            "values": [-4.5,-4.25,-4,-3.75,-3.5,-3.25,-3,-2.75,-2.5,-2.25,-2,-1.75,-1.5,-1.25,-1,-0.75,-0.5,-0.25,0,0.25,0.5,0.75,1,1.25,1.5,1.75,2,2.25,2.5,2.75,3,3.25,3.5,3.75,4,4.25]}},
        "y": {"field": "y", "type": "quantitative", "scale": {"domain": [0, 36.41], "nice": false, "zero": false},
          "axis": {"orient": "left", "title": null, "labels": false, "domain": false, "tickSize": 5,
            "values": [0,1,2,3,4,5,6,7,8,9,10,11,12,13,14,15,16,17,18,19,20,21,22,23,24,25,26,27,28,29,30,31,32,33,34,35,36]}},
        "y2": {"field": "y2"}
      }
    },
    {
      "data": {"name": "aa"},
      "mark": {"type": "point", "opacity": 1, "strokeWidth": 2.4, "clip": true},
      "encoding": {
        "x": {"field": "x", "type": "quantitative", "scale": {"domain": [-4.53, 4.47], "nice": false, "zero": false},
          "axis": {"orient": "bottom", "title": "Log2 Fold Difference (M vs. F)", "titlePadding": 12, "labelPadding": 5, "tickSize": 10,
            "values": [-4.5,-4,-3.5,-3,-2.5,-2,-1.5,-1,-0.5,0,0.5,1,1.5,2,2.5,3,3.5,4],
            "labelExpr": "datum.value % 1 === 0 ? toString(datum.value) : ''"}},
        "y": {"field": "y", "type": "quantitative", "scale": {"domain": [0, 36.41], "nice": false, "zero": false},
          "axis": {"orient": "left", "title": "-Log P-value", "titlePadding": 18, "labelPadding": 7, "tickSize": 10,
            "values": [0,2,4,6,8,10,12,14,16,18,20,22,24,26,28,30,32,34,36],
            "labelExpr": "datum.value % 4 === 0 ? toString(datum.value) : ''"}},
        "stroke": {"field": "g", "type": "nominal", "scale": {"domain": ["Auto", "X chr", "Y chr"], "range": ["#6d6e71", "#c8102e", "#2f52a0"]},
          "legend": {"title": null, "orient": "top-left", "offset": 6, "padding": 8, "labelFontSize": 21, "labelColor": "#231f20", "labelFont": "Liberation Sans", "symbolOffset": 1, "labelOffset": 5, "rowPadding": 3, "strokeColor": "#231f20", "fillColor": "white", "symbolStrokeWidth": 2.4, "labelExpr": "datum.label + '   '", "encode": {"legend": {"update": {"strokeWidth": {"value": 2.5}}}}}},
        "fill": {"field": "g", "type": "nominal", "scale": {"domain": ["Auto", "X chr", "Y chr"], "range": ["#6d6e71", "transparent", "transparent"]}},
        "shape": {"field": "g", "type": "nominal", "scale": {"domain": ["Auto", "X chr", "Y chr"], "range": ["circle", "circle", "diamond"]}},
        "size": {"field": "g", "type": "nominal", "scale": {"domain": ["Auto", "X chr", "Y chr"], "range": [36, 95, 220]}}
      }
    }
  ]
},
{
  "width": 529, "height": 440,
  "title": {"text": "B", "anchor": "start", "frame": "bounds", "fontSize": 25, "fontWeight": "normal", "color": "#231f20", "baseline": "top", "offset": -1, "dy": 22},
  "resolve": {"axis": {"x": "independent", "y": "independent"}},
  "layer": [
    {
      "data": {"values": [{"x": 0, "y": 0, "y2": 9.544}]},
      "mark": {"type": "rule", "color": "#b3b3b3", "strokeWidth": 2},
      "encoding": {
        "x": {"field": "x", "type": "quantitative", "scale": {"domain": [-3, 3], "nice": false, "zero": false},
          "axis": {"orient": "bottom", "title": null, "labels": false, "domain": false, "tickSize": 5,
            "values": [-3,-2.9,-2.8,-2.7,-2.6,-2.5,-2.4,-2.3,-2.2,-2.1,-2,-1.9,-1.8,-1.7,-1.6,-1.5,-1.4,-1.3,-1.2,-1.1,-1,-0.9,-0.8,-0.7,-0.6,-0.5,-0.4,-0.3,-0.2,-0.1,0,0.1,0.2,0.3,0.4,0.5,0.6,0.7,0.8,0.9,1,1.1,1.2,1.3,1.4,1.5,1.6,1.7,1.8,1.9,2,2.1,2.2,2.3,2.4,2.5,2.6,2.7,2.8,2.9,3]}},
        "y": {"field": "y", "type": "quantitative", "scale": {"domain": [0, 9.544], "nice": false, "zero": false},
          "axis": {"orient": "left", "title": null, "labels": false, "domain": false, "tickSize": 5,
            "values": [0,0.25,0.5,0.75,1,1.25,1.5,1.75,2,2.25,2.5,2.75,3,3.25,3.5,3.75,4,4.25,4.5,4.75,5,5.25,5.5,5.75,6,6.25,6.5,6.75,7,7.25,7.5,7.75,8,8.25,8.5,8.75,9,9.25,9.5]}},
        "y2": {"field": "y2"}
      }
    },
    {
      "data": {"name": "bg"},
      "mark": {"type": "point", "filled": true, "opacity": 1, "color": "#6d6e71", "size": 64, "clip": true},
      "encoding": {
        "x": {"field": "x", "type": "quantitative", "scale": {"domain": [-3, 3], "nice": false, "zero": false},
          "axis": {"orient": "bottom", "title": "Log2 Fold Difference (M vs. F)", "titlePadding": 12, "labelPadding": 5, "tickSize": 10,
            "values": [-3,-2.5,-2,-1.5,-1,-0.5,0,0.5,1,1.5,2,2.5,3],
            "labelExpr": "datum.value % 1 === 0 ? toString(datum.value) : ''"}},
        "y": {"field": "y", "type": "quantitative", "scale": {"domain": [0, 9.544], "nice": false, "zero": false},
          "axis": {"orient": "left", "title": "-Log P-value", "titlePadding": 30, "labelPadding": 6, "tickSize": 10,
            "values": [0,0.5,1,1.5,2,2.5,3,3.5,4,4.5,5,5.5,6,6.5,7,7.5,8,8.5,9,9.5],
            "labelExpr": "datum.value % 1 === 0 ? toString(datum.value) : ''"}}
      }
    },
    {
      "data": {"name": "bp"},
      "mark": {"type": "point", "filled": false, "opacity": 1, "strokeWidth": 2.5, "clip": true},
      "encoding": {
        "x": {"field": "x", "type": "quantitative", "scale": {"domain": [-3, 3], "nice": false, "zero": false}, "axis": null},
        "y": {"field": "y", "type": "quantitative", "scale": {"domain": [0, 9.544], "nice": false, "zero": false}, "axis": null},
        "stroke": {"field": "g", "type": "nominal", "scale": {"domain": ["P≤0.005", "P≤0.01", "P≤0.05"], "range": ["#c2651f", "#c8102e", "#6f3f9b"]},
          "legend": {"title": "MvF FD≥1.2 &", "orient": "top-right", "offset": 4, "padding": 11, "titleFontSize": 21, "titleFontWeight": "normal", "titleColor": "#231f20", "titleFont": "Liberation Sans", "titlePadding": 6, "labelFontSize": 21, "labelColor": "#231f20", "labelFont": "Liberation Sans", "symbolOffset": 124, "labelOffset": -146, "rowPadding": 5, "strokeColor": "#231f20", "fillColor": "white", "symbolStrokeWidth": 2.5, "encode": {"legend": {"update": {"strokeWidth": {"value": 2.5}}}}}},
        "shape": {"field": "g", "type": "nominal", "scale": {"domain": ["P≤0.005", "P≤0.01", "P≤0.05"], "range": ["M-1,0H1M0,-1V1", "diamond", "M-1,-1L1,1M-1,1L1,-1"]}},
        "size": {"field": "g", "type": "nominal", "scale": {"domain": ["P≤0.005", "P≤0.01", "P≤0.05"], "range": [130, 150, 80]}}
      }
    }
  ]
}
]
}
